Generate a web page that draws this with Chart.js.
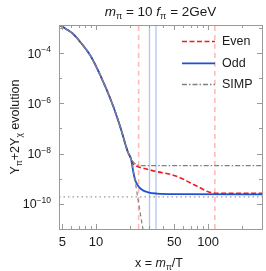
<!DOCTYPE html>
<html>
<head>
<meta charset="utf-8">
<script src="https://cdn.jsdelivr.net/npm/chart.js@4/dist/chart.umd.min.js"></script>
<style>
  html, body { margin: 0; padding: 0; background: #fff; }
  #wrap { width: 266px; height: 271px; }
</style>
</head>
<body>
<div id="wrap"><canvas id="c" width="266" height="271"></canvas></div>
<script>
// ── Data ──────────────────────────────────────────────────────────────────
const xRange = [4.67, 303];
const yRange = [1e-11, 1.3e-3];

// shared freeze-out part, before the branches split
const commonX = [4.67, 5.39, 6.24, 7.35, 8.84, 10.9, 13.8, 16.4, 19.3, 20.5];
const commonY = [1.32e-3, 9.1e-4, 5.75e-4, 2.5e-4, 8.3e-5, 1.32e-5, 1.1e-6, 1.2e-7, 1.1e-8, 6.3e-9];

const oddX  = [21.4, 22.3, 23.7, 25.7, 29.1, 35.1, 50.7, 303];
const oddY  = [2.09e-9, 9.1e-10, 5.25e-10, 3.63e-10, 2.88e-10, 2.56e-10, 2.44e-10, 2.4e-10];

const evenX = [21.4, 23.7, 28.5, 35.1, 45.8, 56.2, 69, 84.8, 100, 120, 157, 303];
const evenY = [3.98e-9, 3.02e-9, 2.4e-9, 1.9e-9, 1.51e-9, 1.1e-9, 6.9e-10, 4.37e-10, 3.02e-10, 2.63e-10, 2.6e-10, 2.6e-10];

const simpX = [21.8, 23.7, 27, 303];
const simpY = [4.37e-9, 3.47e-9, 3.3e-9, 3.3e-9];

const eqX   = [22.3, 24.2, 26.3, 27.4];
const eqY   = [8.3e-10, 8.3e-11, 9.1e-12, 3.3e-12];

const floorY = 1.9e-10;
const pinkLines = [24, 115];
const blueLines = [30, 34.3];

const xMajor = [5, 10, 50, 100];
const xMinor = [6, 7, 8, 9, 20, 30, 40, 60, 70, 80, 90, 200, 300];
const yDecades = [-11, -10, -9, -8, -7, -6, -5, -4, -3];
const yLabeled = [-10, -8, -6, -4];
const legendLabels = ['Even', 'Odd', 'SIMP'];

// ── Styles ────────────────────────────────────────────────────────────────
const FONT = '"Liberation Sans", Arial, sans-serif';
const RED  = '#ee1d1d';
const BLUE = '#1f4fd4';
const GRAY = '#808080';

const pts = (xs, ys) => xs.map((x, i) => ({ x, y: ys[i] }));
const line = (data, color, width, dash, order, extra) => Object.assign({
  data, borderColor: color, backgroundColor: color, borderWidth: width,
  borderDash: dash, pointRadius: 0, showLine: true, fill: false,
  cubicInterpolationMode: 'monotone', order
}, extra || {});

const datasets = [];
pinkLines.forEach(v => datasets.push(line(pts([v, v], yRange), 'rgba(255,130,130,0.55)', 1.6, [5, 4], 10)));
blueLines.forEach(v => datasets.push(line(pts([v, v], yRange), 'rgba(130,165,230,0.6)', 1.4, [], 10)));
datasets.push(line(pts(xRange, [floorY, floorY]), '#9a9a9a', 1.1, [1.5, 3], 9));
datasets.push(line(pts(commonX.concat(evenX), commonY.concat(evenY)), RED, 1.6, [5, 2.5], 4, { label: 'Even' }));
datasets.push(line(pts(commonX.concat(oddX), commonY.concat(oddY)), BLUE, 1.8, [], 3, { label: 'Odd' }));
datasets.push(line(pts(commonX.concat(simpX), commonY.concat(simpY)), GRAY, 1.3, [5, 2, 1.5, 2], 2, { label: 'SIMP' }));
datasets.push(line(pts(commonX.concat(eqX), commonY.concat(eqY)), GRAY, 1.2, [4, 3], 1));

// ── Rich text helper (italics, sub/superscripts) ──────────────────────────
function partFont(p, size) {
  const small = p[1] && (p[1].includes('sub') || p[1].includes('sup'));
  const ital  = p[1] && p[1].includes('i');
  return (ital ? 'italic ' : '') + (small ? size * 0.68 : size) + 'px ' + FONT;
}
function drawRich(ctx, parts, x, y, size, align) {
  ctx.save();
  ctx.textBaseline = 'alphabetic';
  ctx.textAlign = 'left';
  let w = 0;
  parts.forEach(p => { ctx.font = partFont(p, size); w += ctx.measureText(p[0]).width; });
  let cx = align === 'center' ? x - w / 2 : align === 'right' ? x - w : x;
  parts.forEach(p => {
    ctx.font = partFont(p, size);
    let dy = 0;
    if (p[1] && p[1].includes('sub')) dy = size * 0.25;
    if (p[1] && p[1].includes('sup')) dy = -size * 0.42;
    ctx.fillText(p[0], cx, y + dy);
    cx += ctx.measureText(p[0]).width;
  });
  ctx.restore();
}

// ── Frame, ticks, labels, legend ──────────────────────────────────────────
const decor = {
  id: 'decor',
  afterDraw(chart) {
    const { ctx, chartArea: a, scales: { x, y } } = chart;
    ctx.save();
    ctx.strokeStyle = '#9a9a9a';
    ctx.lineWidth = 1;
    ctx.strokeRect(a.left + 0.5, a.top + 0.5, a.right - a.left, a.bottom - a.top);

    const tick = (x1, y1, x2, y2) => { ctx.beginPath(); ctx.moveTo(x1, y1); ctx.lineTo(x2, y2); ctx.stroke(); };
    xMajor.concat(xMinor).forEach(v => {
      const px = Math.round(x.getPixelForValue(v)) + 0.5;
      const len = xMajor.includes(v) ? 5 : 3;
      tick(px, a.bottom, px, a.bottom - len);
      tick(px, a.top, px, a.top + len);
    });
    yDecades.forEach(d => {
      const py = Math.round(y.getPixelForValue(Math.pow(10, d))) + 0.5;
      const len = yLabeled.includes(d) ? 5 : 3;
      tick(a.left, py, a.left + len, py);
      tick(a.right, py, a.right - len, py);
    });

    ctx.fillStyle = '#1a1a1a';
    ctx.font = '13px ' + FONT;
    ctx.textAlign = 'center';
    ctx.textBaseline = 'middle';
    xMajor.forEach(v => ctx.fillText(String(v), x.getPixelForValue(v), 242));

    yLabeled.forEach(d => {
      const py = y.getPixelForValue(Math.pow(10, d));
      drawRich(ctx, [['10', ''], ['\u2212' + Math.abs(d), 'sup']], 51, py + 4.5, 12.5, 'right');
    });

    // titles
    drawRich(ctx, [['m', 'i'], ['\u03c0', 'sub'], [' = 10 ', ''], ['f', 'i'], ['\u03c0', 'sub'], [' = 2GeV', '']],
             (a.left + a.right) / 2, 16, 13.5, 'center');
    drawRich(ctx, [['x = ', ''], ['m', 'i'], ['\u03c0', 'sub'], ['/T', '']], 159, 267, 12.5, 'center');
    ctx.save();
    ctx.translate(19, 127);
    ctx.rotate(-Math.PI / 2);
    drawRich(ctx, [['Y', ''], ['\u03c0', 'sub'], ['+2Y', ''], ['\u03c7', 'sub'], [' evolution', '']], 0, 0, 12.5, 'center');
    ctx.restore();

    // legend
    const rows = [41.5, 63.3, 84.5];
    legendLabels.forEach((lab, i) => {
      const ds = chart.data.datasets.find(d => d.label === lab);
      ctx.save();
      ctx.strokeStyle = ds.borderColor;
      ctx.lineWidth = ds.borderWidth;
      ctx.setLineDash(ds.borderDash);
      tick(182, rows[i], 215, rows[i]);
      ctx.restore();
      ctx.fillStyle = '#1a1a1a';
      ctx.font = '12.5px ' + FONT;
      ctx.textAlign = 'left';
      ctx.textBaseline = 'middle';
      ctx.fillText(lab, 222, rows[i]);
    });
    ctx.restore();
  }
};

new Chart(document.getElementById('c'), {
  type: 'scatter',
  data: { datasets },
  plugins: [decor],
  options: {
    responsive: false, animation: false,
    layout: { padding: { left: 59, top: 25, right: 4, bottom: 42 } },
    plugins: { legend: { display: false }, tooltip: { enabled: false }, title: { display: false } },
    scales: {
      x: { type: 'logarithmic', min: xRange[0], max: xRange[1], display: false },
      y: { type: 'logarithmic', min: yRange[0], max: yRange[1], display: false }
    }
  }
});
</script>
</body>
</html>
